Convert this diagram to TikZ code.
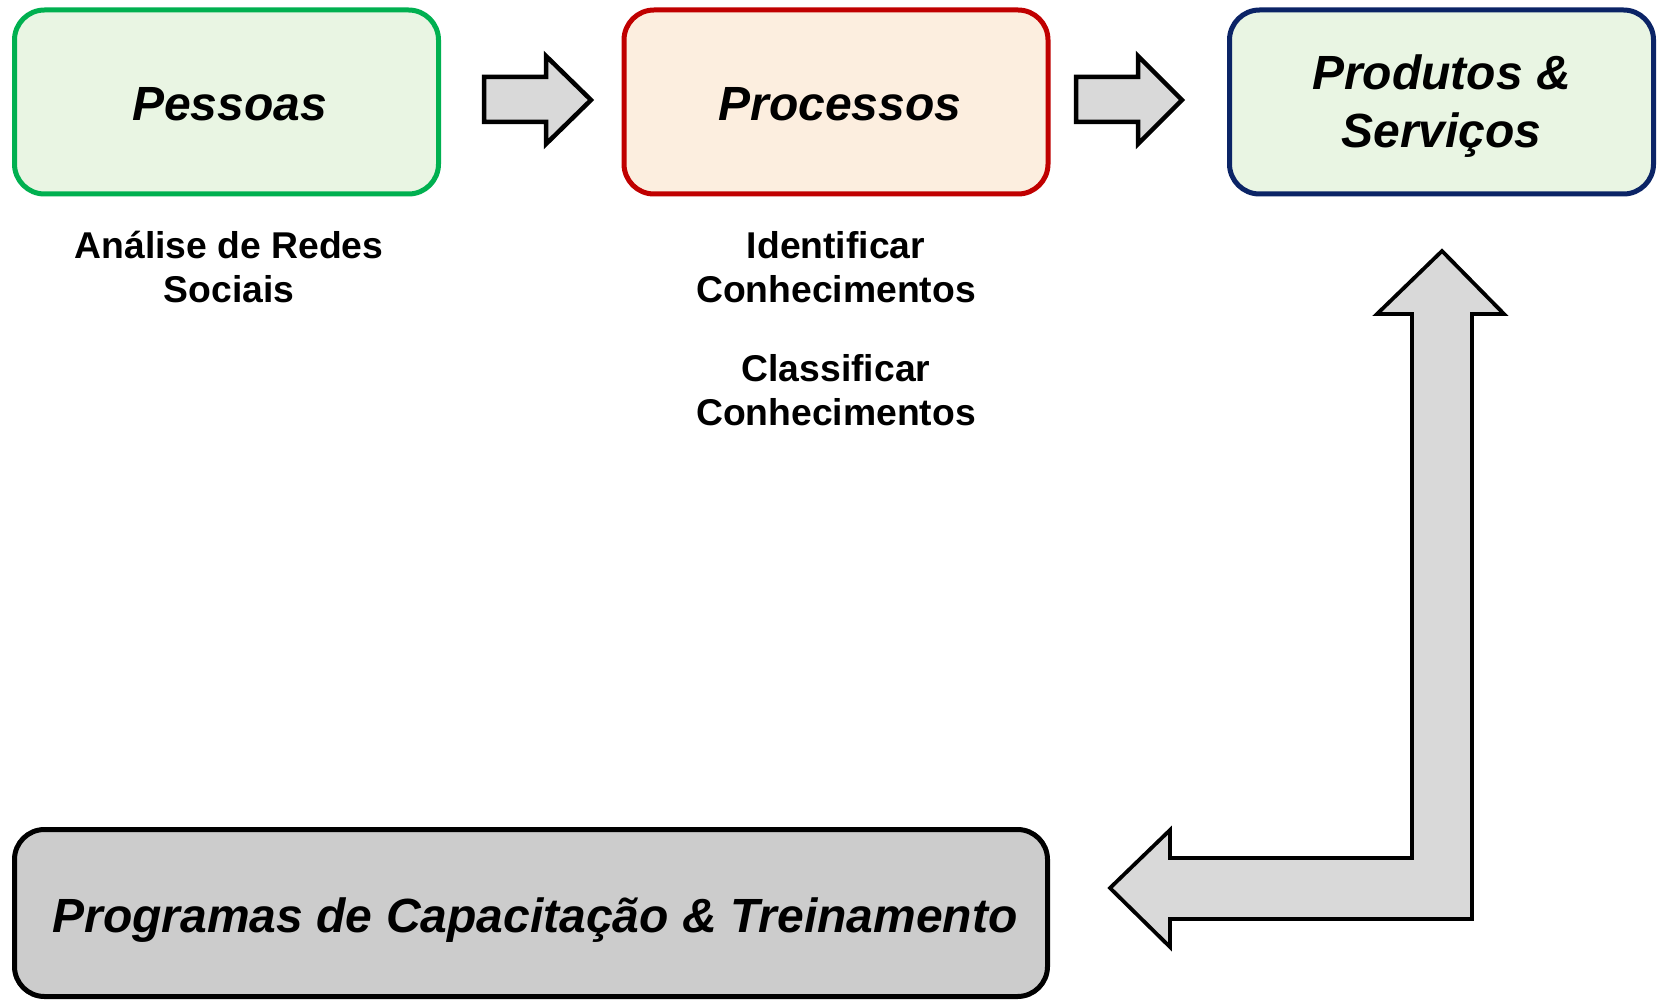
\documentclass[tikz,border=0pt]{standalone}
\usepackage{fontspec}
\setmainfont{Liberation Sans}
\usetikzlibrary{calc}
\definecolor{gborder}{HTML}{00B050}
\definecolor{gfill}{HTML}{E9F5E3}
\definecolor{rborder}{HTML}{C00000}
\definecolor{rfill}{HTML}{FCEEDF}
\definecolor{bborder}{HTML}{0B2466}
\definecolor{greyfill}{HTML}{CCCCCC}
\definecolor{arrowfill}{HTML}{D9D9D9}
\begin{document}
\begin{tikzpicture}[x=1pt,y=-1pt,
  mainbox/.style={draw, line width=5pt, rounded corners=30pt, minimum width=424pt, minimum height=184pt, inner sep=0pt},
  boxtext/.style={align=center, inner sep=0pt, font=\fontsize{48}{58}\selectfont\bfseries\itshape},
  labeltext/.style={align=center, inner sep=0pt, font=\fontsize{37.3}{44.5}\selectfont\bfseries},
  blockarrow/.style={draw=black, fill=arrowfill, line width=4.5pt, miter limit=10}]
\useasboundingbox (0,0) rectangle (1661,1000);
\fill[white] (0,0) rectangle (1661,1000);

\node[mainbox, draw=gborder, fill=gfill] (pessoas) at (226.5,102) {};
\node[mainbox, draw=rborder, fill=rfill] (processos) at (836,102) {};
\node[mainbox, draw=bborder, fill=gfill] (produtos) at (1441.5,102) {};
\node[mainbox, draw=black, fill=greyfill, minimum width=1033pt, minimum height=167pt] (programas) at (531,913) {};

\node[boxtext, xshift=3pt, yshift=-2pt] (tpessoas) at (pessoas.center) {Pessoas};
\node[boxtext, xshift=4pt, yshift=-2pt] (tprocessos) at (processos.center) {Processos};
\node[boxtext, yshift=-4.5pt] (tprodutos) at (produtos.center) {Produtos \&\\Serviços};
\node[boxtext, xshift=4pt, yshift=-7pt] (tprogramas) at (programas.center) {Programas de Capacitação \& Treinamento};

\node[labeltext] (redes) at (229,267) {Análise de Redes\\Sociais};
\node[labeltext] (identificar) at (836,267) {Identificar\\Conhecimentos};
\node[labeltext] (classificar) at (836,390) {Classificar\\Conhecimentos};

% block arrows
\draw[blockarrow] (484,77) -- (546,77) -- (546,56) -- (591,100) -- (546,144) -- (546,122) -- (484,122) -- cycle;
\draw[blockarrow] (1076,77) -- (1138,77) -- (1138,56) -- (1182,100) -- (1138,144) -- (1138,122) -- (1076,122) -- cycle;

% L-shaped arrow
\draw[blockarrow, line width=3.8pt] (1442,251) -- (1504,314) -- (1472,314) -- (1472,919) -- (1170,919) -- (1170,947) -- (1110,888) -- (1170,830) -- (1170,858) -- (1412,858) -- (1412,314) -- (1377,314) -- cycle;
\end{tikzpicture}
\end{document}
